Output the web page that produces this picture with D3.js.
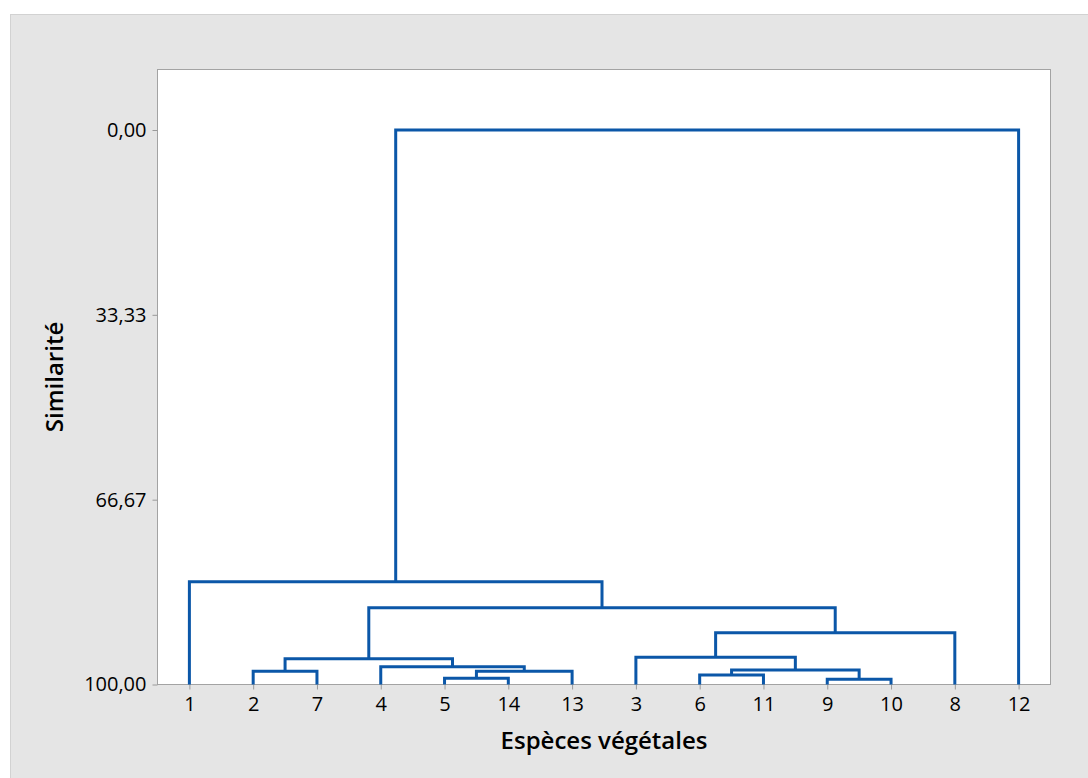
<!DOCTYPE html>
<html>
<head>
<meta charset="utf-8">
<script src="https://cdn.jsdelivr.net/npm/d3@7"></script>
<style>
  html, body { margin: 0; padding: 0; background: #ffffff; }
  svg { display: block; }
  text { font-family: "Open Sans", "Noto Sans", sans-serif; fill: #000; }
</style>
</head>
<body>
<svg id="chart" width="1088" height="778"></svg>
<script>
// ---- Data ----
const leaves = ["1", "2", "7", "4", "5", "14", "13", "3", "6", "11", "9", "10", "8", "12"];
// Merge steps (cluster "cN" = result of step N, 1-based)
const mergeLeft       = ["5",   "9",   "6",   "2",   "c1",  "c3",  "4",   "c4",  "3",   "c9",  "c8",  "1",   "c12"];
const mergeRight      = ["14",  "10",  "11",  "7",   "13",  "c2",  "c5",  "c7",  "c6",  "8",   "c10", "c11", "12"];
const mergeSimilarity = [98.89, 99.06, 98.29, 97.63, 97.63, 97.39, 96.78, 95.34, 95.10, 90.66, 86.15, 81.46, 0.00];
const yTickValues = [0, 33.33, 66.67, 100];
const yTickLabels = ["0,00", "33,33", "66,67", "100,00"];
const xTitle = "Espèces végétales";
const yTitle = "Similarité";

// ---- Layout ----
const W = 1088, H = 778;
const plot = { left: 157.5, right: 1050.5, top: 69.5, bottom: 684.5 };
const svg = d3.select("#chart");

// outer panel background
svg.append("rect").attr("x", 10.5).attr("y", 14.5).attr("width", W).attr("height", H)
  .attr("fill", "#e5e5e5").attr("stroke", "#d2d2d2").attr("stroke-width", 1);

// plot area
svg.append("rect").attr("x", plot.left).attr("y", plot.top)
  .attr("width", plot.right - plot.left).attr("height", plot.bottom - plot.top)
  .attr("fill", "#ffffff").attr("stroke", "#a3a3a3").attr("stroke-width", 1);

const x = d3.scalePoint().domain(leaves).range([plot.left, plot.right]).padding(0.5);
const y = d3.scaleLinear().domain([0, 100]).range([130, plot.bottom]);

// ---- Axes ----
const yAxis = d3.axisLeft(y).tickValues(yTickValues)
  .tickFormat((d, i) => yTickLabels[i]).tickSize(5).tickPadding(6).tickSizeOuter(0);
const gy = svg.append("g").attr("transform", `translate(${plot.left},0)`).call(yAxis);
gy.select(".domain").remove();
gy.selectAll(".tick line").attr("stroke", "#9a9a9a");
gy.selectAll(".tick text").style("font-size", "20px").style("font-weight", 500).attr("fill", "#000");

const xAxis = d3.axisBottom(x).tickSize(5).tickPadding(7).tickSizeOuter(0);
const gx = svg.append("g").attr("transform", `translate(0,${plot.bottom})`).call(xAxis);
gx.select(".domain").remove();
gx.selectAll(".tick line").attr("stroke", "#9a9a9a");
gx.selectAll(".tick text").style("font-size", "20px").style("font-weight", 500).attr("fill", "#000");

// titles
svg.append("text").attr("x", (plot.left + plot.right) / 2).attr("y", 749)
  .attr("text-anchor", "middle").style("font-size", "24px").style("font-weight", 600)
  .text(xTitle);
svg.append("text").attr("transform", `translate(63,${(plot.top + plot.bottom) / 2}) rotate(-90)`)
  .attr("text-anchor", "middle").style("font-size", "24px").style("font-weight", 600)
  .text(yTitle);

// ---- Dendrogram ----
const nodes = {};
leaves.forEach(l => { nodes[l] = { x: x(l), sim: 100 }; });
const links = [];
mergeLeft.forEach((a, i) => {
  const b = mergeRight[i];
  const na = nodes[a], nb = nodes[b];
  const s = mergeSimilarity[i];
  links.push({ a: na, b: nb, sim: s });
  nodes["c" + (i + 1)] = { x: (na.x + nb.x) / 2, sim: s };
});

svg.append("g").selectAll("path").data(links).join("path")
  .attr("d", d => `M${d.a.x},${y(d.a.sim)}V${y(d.sim)}H${d.b.x}V${y(d.b.sim)}`)
  .attr("fill", "none").attr("stroke", "#0b57a8").attr("stroke-width", 3)
  .attr("stroke-linejoin", "miter");
</script>
</body>
</html>
